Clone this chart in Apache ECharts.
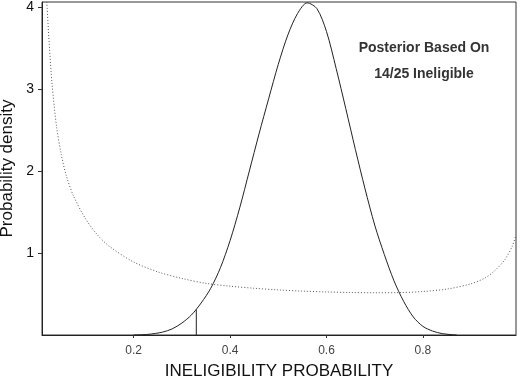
<!DOCTYPE html>
<html>
<head>
<meta charset="utf-8">
<script src="https://cdn.jsdelivr.net/npm/echarts@6/dist/echarts.min.js"></script>
<style>
  html, body { margin: 0; padding: 0; background: #fff; }
  #chart { width: 520px; height: 381px; }
</style>
</head>
<body>
<div id="chart"></div>
<script>
// prior density (dotted)
const priorX = [0.020, 0.025, 0.031, 0.040, 0.050, 0.060, 0.075, 0.100, 0.125, 0.150, 0.200, 0.250, 0.300, 0.350, 0.400, 0.450, 0.500, 0.550, 0.600, 0.650, 0.700, 0.750, 0.800, 0.850, 0.900, 0.930, 0.950, 0.970, 0.985, 0.993];
const priorY = [4.06, 3.55, 3.05, 2.55, 2.20, 1.95, 1.70, 1.42, 1.22, 1.08, 0.89, 0.77, 0.69, 0.63, 0.595, 0.57, 0.55, 0.535, 0.525, 0.518, 0.515, 0.517, 0.53, 0.56, 0.625, 0.70, 0.79, 0.92, 1.08, 1.22];

// posterior density (solid)
const postX = [0.20, 0.23, 0.26, 0.28, 0.30, 0.32, 0.34, 0.36, 0.38, 0.40, 0.42, 0.44, 0.46, 0.48, 0.50, 0.52, 0.54, 0.56, 0.58, 0.60, 0.62, 0.64, 0.66, 0.68, 0.70, 0.72, 0.74, 0.76, 0.78, 0.80, 0.82, 0.84, 0.86, 0.87];
const postY = [0.000, 0.008, 0.035, 0.075, 0.145, 0.245, 0.39, 0.57, 0.82, 1.15, 1.55, 2.00, 2.45, 2.88, 3.30, 3.66, 3.92, 4.05, 3.98, 3.70, 3.25, 2.76, 2.26, 1.78, 1.34, 0.98, 0.66, 0.41, 0.22, 0.105, 0.048, 0.017, 0.004, 0.000];

// cut-off marker
const cutX = 0.33;
const cutY = 0.31;

const xTicks = [0.2, 0.4, 0.6, 0.8];
const yTicks = [1, 2, 3, 4];
const noteLines = ['Posterior Based On', '14/25 Ineligible'];

const zip = (xs, ys) => xs.map((x, i) => [x, ys[i]]);

const chart = echarts.init(document.getElementById('chart'));

const font = 'Liberation Sans, Arial, sans-serif';

const option = {
  animation: false,
  backgroundColor: '#fff',
  grid: {
    left: 42, right: 4, top: 2, bottom: 46,
    outerBoundsMode: 'none',
    containLabel: false,
    show: true, borderColor: '#333', borderWidth: 1
  },
  xAxis: {
    type: 'value',
    min: 0.01, max: 0.993,
    name: 'INELIGIBILITY PROBABILITY',
    nameLocation: 'middle',
    nameGap: 28,
    nameTextStyle: { fontFamily: font, fontSize: 17, color: '#111' },
    axisLine: { lineStyle: { color: '#222', width: 1 } },
    axisTick: { show: true, length: 3, customValues: xTicks, lineStyle: { color: '#333' } },
    axisLabel: { customValues: xTicks, margin: 10, fontFamily: font, fontSize: 12, color: '#444',
      formatter: v => v.toFixed(1) },
    splitLine: { show: false }
  },
  yAxis: {
    type: 'value',
    min: 0, max: 4.06,
    name: 'Probability density',
    nameLocation: 'middle',
    nameGap: 22,
    nameRotate: 90,
    nameTextStyle: { fontFamily: font, fontSize: 17, color: '#111' },
    axisLine: { show: true, lineStyle: { color: '#222', width: 1 } },
    axisTick: { show: true, length: 4, customValues: yTicks, lineStyle: { color: '#333' } },
    axisLabel: { customValues: yTicks, margin: 8, fontFamily: font, fontSize: 14, color: '#111' },
    splitLine: { show: false }
  },
  graphic: [
    { type: 'text', x: 424, y: 48, style: { text: noteLines[0], fontFamily: font, fontSize: 14, fontWeight: 'bold', fill: '#333', align: 'center', verticalAlign: 'middle' } },
    { type: 'text', x: 424, y: 74, style: { text: noteLines[1], fontFamily: font, fontSize: 14, fontWeight: 'bold', fill: '#333', align: 'center', verticalAlign: 'middle' } }
  ],
  series: [
    {
      name: 'prior', type: 'line', data: zip(priorX, priorY),
      symbol: 'none', smooth: 0.3, clip: true,
      lineStyle: { type: [1, 2], width: 1, color: '#555' }
    },
    {
      name: 'posterior', type: 'line', data: zip(postX, postY),
      symbol: 'none', smooth: 0.3, clip: true,
      lineStyle: { width: 1, color: '#222' }
    },
    {
      name: 'cutoff', type: 'line', data: [[cutX, 0], [cutX, cutY]],
      symbol: 'none', lineStyle: { width: 1, color: '#222' }
    }
  ]
};

chart.setOption(option);
</script>
</body>
</html>
